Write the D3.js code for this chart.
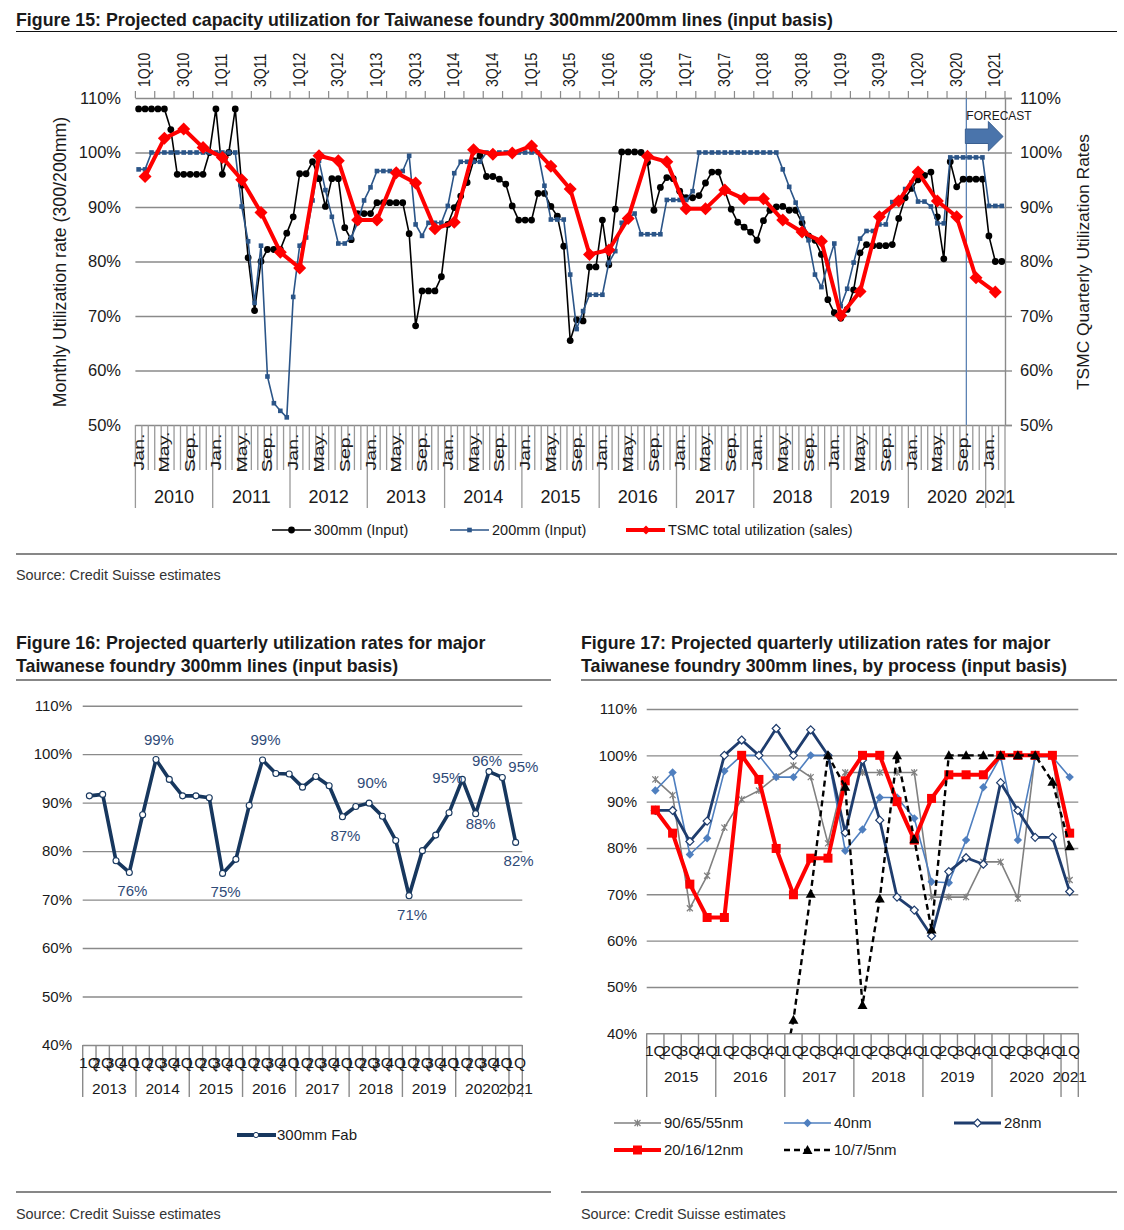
<!DOCTYPE html>
<html><head><meta charset="utf-8">
<script src="https://cdn.jsdelivr.net/npm/d3@7"></script>
<style>
body{margin:0;background:#fff;}
text{font-family:"Liberation Sans",Arial,Helvetica,sans-serif;fill:#1a1a1a;}
</style></head><body>
<svg id="c" width="1124" height="1230"></svg>
<script>
// ---- Figure 15 data (monthly Jan 2010 - Mar 2021, quarterly 1Q10 - 1Q21)
const years15 = [2010,2011,2012,2013,2014,2015,2016,2017,2018,2019,2020,2021];
const monthLabels = {0:"Jan.", 4:"May.", 8:"Sep."};
const fab300 = [108,108,108,108,108,104.2,96,96,96,96,96,100,108,96,100,108,94,80.7,71,80,
  82.2,82.2,82.2,85.2,88.2,96.1,96.1,98.3,95.2,90.1,95.2,95.2,86.2,84,88.8,88.8,88.8,90.8,90.8,90.8,
  90.8,90.8,85.1,68.2,74.6,74.6,74.6,77.2,86.8,89.9,92,94.5,98.5,99.4,95.6,95.6,95.1,94.2,90.2,87.6,
  87.6,87.6,92.5,92.5,90.1,88.3,82.8,65.5,69.3,69.1,79,79,87.6,79.4,89.6,100.1,100.1,100.1,100,98.2,
  89.4,93.6,95.4,95.2,92.9,91.7,91.7,92.1,94.4,96.4,96.4,93,89.6,87.2,86.3,85.4,83.9,87.5,89.4,90,
  90.1,89.4,89.4,87.1,84.7,83.9,81.3,73,70.6,69.6,71.2,74.8,81.6,83.1,82.9,82.9,82.9,83.1,87.9,91.7,
  93.4,95,95.8,96.4,88.2,80.5,98.3,93.7,95.1,95.1,95.1,95.1,84.7,80,80];
const fab200 = [96.9,96.9,100,100,100,100,100,100,100,100,100,100,100,100,100,100,90.1,83.7,72.4,82.9,
  58.9,54,52.6,51.4,73.5,82.9,84.4,91.2,98.5,93.1,88.2,83.3,83.3,84.4,87.1,91.2,93.6,96.6,96.6,96.6,
  96.6,96.6,99.4,86.8,84.7,87.1,87.1,87.1,90.2,96.2,98.3,98.3,98.3,98.3,100,100,100,100,100,100,
  100,100,100,93.9,87.7,87.7,87.7,77.6,67.6,70.9,73.9,73.9,73.9,79.8,81.9,87.1,88,88.8,85,85,
  85,85,91.3,91.3,91.3,91.3,92.9,100,100,100,100,100,100,100,100,100,100,100,100,100,
  96.9,93.7,90.8,87.9,83.9,77.6,75.3,79.5,83.3,71.8,75,79.8,84.2,85.6,85.6,86.8,86.8,90.9,90.9,93.3,
  94.5,91,91,90.1,87,87,99.1,99.1,99.1,99.1,99.1,99.1,90.2,90.2,90.2];
const tsmcQ = [95.6,102.6,104.3,100.9,99.1,95,89,81.7,78.8,99.4,98.5,87.6,87.6,96.3,94.4,86,87.2,100.5,
  99.7,99.9,101.2,97.5,93.3,81.3,82.1,87.9,99.3,98.3,89.7,89.7,93.1,91.5,91.5,87.6,85.4,83.7,70.1,74.5,
  88.2,91.1,96.4,91.1,88.2,77,74.4];
const forecastStartMonth = 129; // Oct 2020

// ---- Figure 16 data (1Q13 - 1Q21)
const years16 = [2013,2014,2015,2016,2017,2018,2019,2020,2021];
const fab300Q = [91.4,91.7,78,75.6,87.5,98.9,94.8,91.4,91.4,91,75.4,78.3,89.4,98.8,96,95.9,93.2,95.4,
  93.5,87.1,89.2,89.9,87.2,82.2,70.8,80.1,83.3,87.9,94.8,87.7,96.4,95.2,81.8];
const labeled16 = [3,5,10,13,19,21,24,28,29,30,31,32];

// ---- Figure 17 data (1Q15 - 1Q21)
const years17 = [2015,2016,2017,2018,2019,2020,2021];
const n90 = [94.8,91.4,67,74,84.4,90.5,92.4,95.4,97.8,95.3,81,96.3,96.3,96.3,96.3,96.3,69.4,69.4,69.4,77,77,69.1,100,100,73.1];
const n40 = [92.4,96.3,78.6,82.1,96.6,100,100,95.3,95.3,100,100,79.4,84,90.9,90.9,86.4,72.7,72.5,81.7,93.1,99.7,81.7,99.7,99.7,95.3];
const n28 = [88.1,88.1,81.4,85.8,100,103.3,100,105.8,100,105.5,100,83.3,99,86,69.4,66.6,61,74.9,77.9,76.5,94.1,88.1,82.3,82.3,70.6];
const n20 = [88.2,83.2,72.2,65,65,100,94.8,79.9,69.9,77.8,77.8,94.5,100,100,90,81.7,90.7,95.8,95.8,95.8,100,100,100,100,83.2];
const n10 = [null,null,null,null,null,null,null,25,42.9,70.1,100,93.2,46.1,69.1,100,81.9,62.4,100,100,100,100,100,100,94.3,80.4];

const svg = d3.select("#c");
const GRID = "#8a8a8a";

function diamond(s){ return `M0,${-s}L${s},0L0,${s}L${-s},0Z`; }
function quarterNames(years, lastCount){
  const out = [];
  years.forEach((y,k) => {
    const n = k === years.length-1 ? lastCount : 4;
    for (let q=1; q<=n; q++) out.push({q:q, year:y});
  });
  return out;
}

// ---------- headers
function header(x, y, lines, width, lineY, bottomY, srcY){
  lines.forEach((t,k) => svg.append("text").attr("x", x).attr("y", y + k*23)
    .attr("font-size", 17.8).attr("font-weight", "bold").text(t));
  svg.append("line").attr("x1", x).attr("x2", x+width).attr("y1", lineY).attr("y2", lineY)
    .attr("stroke", "#111").attr("stroke-width", 1.2);
  svg.append("line").attr("x1", x).attr("x2", x+width).attr("y1", bottomY).attr("y2", bottomY)
    .attr("stroke", "#111").attr("stroke-width", 1.2);
  svg.append("text").attr("x", x).attr("y", srcY).attr("font-size", 14.4).style("fill", "#333")
    .text("Source: Credit Suisse estimates");
}
header(16, 26, ["Figure 15: Projected capacity utilization for Taiwanese foundry 300mm/200mm lines (input basis)"], 1101, 31.5, 554, 580);
header(16, 649, ["Figure 16: Projected quarterly utilization rates for major", "Taiwanese foundry 300mm lines (input basis)"], 535, 680, 1192, 1219);
header(581, 649, ["Figure 17: Projected quarterly utilization rates for major", "Taiwanese foundry 300mm lines, by process (input basis)"], 536, 680, 1192, 1219);

// ---------- Figure 15
{
  const L = 135.4, R = 1005, T = 98, B = 425;
  const x = d3.scaleBand().domain(d3.range(fab300.length)).range([L, R]);
  const xq = d3.scaleBand().domain(d3.range(tsmcQ.length)).range([L, R]);
  const y = d3.scaleLinear().domain([50, 110]).range([B, T]);
  const g = svg.append("g");
  const ticks = d3.range(50, 111, 10);

  const grid = g.append("g").attr("transform", `translate(${L},0)`)
    .call(d3.axisLeft(y).tickValues(ticks).tickSize(-(R-L)).tickFormat(""));
  grid.select(".domain").remove();
  grid.selectAll("line").attr("stroke", GRID).attr("stroke-width", 1.4);

  const left = g.append("g").attr("transform", `translate(121,0)`)
    .call(d3.axisLeft(y).tickValues(ticks).tickSize(0).tickPadding(0).tickFormat(d => d + "%"));
  left.select(".domain").remove();
  left.selectAll("text").attr("font-size", 16.5).style("fill", "#1a1a1a");

  const right = g.append("g").attr("transform", `translate(${R},0)`)
    .call(d3.axisRight(y).tickValues(ticks).tickSize(7).tickPadding(8).tickFormat(d => d + "%"));
  right.select(".domain").attr("stroke", GRID).attr("stroke-width", 1.4);
  right.selectAll("line").attr("stroke", GRID).attr("stroke-width", 1.4);
  right.selectAll("text").attr("font-size", 16.5).style("fill", "#1a1a1a");

  // quarter ticks and labels on top
  const qb = d3.range(tsmcQ.length + 1).map(q => q < tsmcQ.length ? xq(q) : R);
  g.selectAll(".qt").data(qb).join("line").attr("x1", d => d).attr("x2", d => d)
    .attr("y1", T - 7).attr("y2", T).attr("stroke", GRID).attr("stroke-width", 1.2);
  const qn = quarterNames(years15, 1);
  g.selectAll(".ql").data(qn.filter((d,i) => i % 2 === 0)).join("text")
    .attr("transform", (d,k) => `translate(${xq(k*2) + xq.bandwidth()/2 + 5},87) rotate(-90) scale(0.88,1)`)
    .attr("font-size", 16).text(d => `${d.q}Q${String(d.year).slice(2)}`);

  // month ticks, labels, years
  const mb = d3.range(fab300.length + 1).map(m => m < fab300.length ? x(m) : R);
  g.selectAll(".mt").data(mb).join("line").attr("x1", d => d).attr("x2", d => d)
    .attr("y1", B).attr("y2", (d,i) => i % 12 === 0 || i === fab300.length ? 508 : 470)
    .attr("stroke", "#999").attr("stroke-width", 1.3);
  g.selectAll(".ml").data(d3.range(fab300.length).filter(m => monthLabels[m % 12])).join("text")
    .attr("transform", m => `translate(${x(m) + x.bandwidth()/2 + 5},452) rotate(-90) scale(1.4,1)`)
    .attr("text-anchor", "middle").attr("font-size", 14).text(m => monthLabels[m % 12]);
  g.selectAll(".yl").data(years15).join("text")
    .attr("x", (d,k) => { const a = x(k*12), b = (k+1)*12 < fab300.length ? x((k+1)*12) : R; return (a+b)/2; })
    .attr("y", 503).attr("text-anchor", "middle").attr("font-size", 18).text(d => d);

  // axis titles
  g.append("text").attr("transform", "translate(66,262) rotate(-90)").attr("text-anchor", "middle")
    .attr("font-size", 17.8).text("Monthly Utilization rate (300/200mm)");
  g.append("text").attr("transform", "translate(1089,262) rotate(-90)").attr("text-anchor", "middle")
    .attr("font-size", 17.4).text("TSMC Quarterly Utilization Rates");

  // forecast marker
  const fx = x(forecastStartMonth);
  g.append("line").attr("x1", fx).attr("x2", fx).attr("y1", T).attr("y2", B)
    .attr("stroke", "#5d83b4").attr("stroke-width", 1.3);
  g.append("path").attr("d", `M${fx-1},129L${fx+22},129L${fx+22},121.5L${R-2},136.5L${fx+22},151L${fx+22},143.5L${fx-1},143.5Z`)
    .attr("fill", "#4a74ab").attr("stroke", "#3a5f90").attr("stroke-width", 1);
  g.append("text").attr("x", fx).attr("y", 120).attr("font-size", 12).text("FORECAST");

  const cx = (d,i) => x(i) + x.bandwidth()/2;
  const line = d3.line().x(cx).y(d => y(d));
  g.append("path").attr("d", line(fab300)).attr("fill", "none").attr("stroke", "#000").attr("stroke-width", 1.6);
  g.selectAll(".p3").data(fab300).join("circle").attr("cx", cx).attr("cy", d => y(d)).attr("r", 3.4).attr("fill", "#000");
  g.append("path").attr("d", line(fab200)).attr("fill", "none").attr("stroke", "#2b5588").attr("stroke-width", 1.6);
  g.selectAll(".p2").data(fab200).join("rect").attr("x", (d,i) => cx(d,i) - 2.3).attr("y", d => y(d) - 2.3)
    .attr("width", 4.6).attr("height", 4.6).attr("fill", "#2b5588");
  const qx = (d,i) => xq(i) + xq.bandwidth()/2;
  g.append("path").attr("d", d3.line().x(qx).y(d => y(d))(tsmcQ)).attr("fill", "none")
    .attr("stroke", "#ff0000").attr("stroke-width", 4).attr("stroke-linejoin", "round");
  g.selectAll(".pt").data(tsmcQ).join("path").attr("transform", (d,i) => `translate(${qx(d,i)},${y(d)})`)
    .attr("d", diamond(6.5)).attr("fill", "#ff0000");

  // legend
  const lg = [
    {t: "300mm (Input)", x: 272, c: "#000", w: 1.6, m: "c"},
    {t: "200mm (Input)", x: 450, c: "#2b5588", w: 1.6, m: "s"},
    {t: "TSMC total utilization (sales)", x: 626, c: "#ff0000", w: 4, m: "d"}
  ];
  lg.forEach(o => {
    g.append("line").attr("x1", o.x).attr("x2", o.x + 39).attr("y1", 530).attr("y2", 530)
      .attr("stroke", o.c).attr("stroke-width", o.w);
    if (o.m === "c") g.append("circle").attr("cx", o.x + 19.5).attr("cy", 530).attr("r", 3.4).attr("fill", o.c);
    if (o.m === "s") g.append("rect").attr("x", o.x + 17.2).attr("y", 527.7).attr("width", 4.6).attr("height", 4.6).attr("fill", o.c);
    if (o.m === "d") g.append("path").attr("transform", `translate(${o.x + 20},530)`).attr("d", diamond(4.5)).attr("fill", o.c);
    g.append("text").attr("x", o.x + 42).attr("y", 535).attr("font-size", 14.5).text(o.t);
  });
}

// ---------- shared quarterly axis for figures 16/17
function quarterAxis(g, x, years, lastCount, B, qTickEnd, yearEnd, qLabelY, yLabelY){
  const qn = quarterNames(years, lastCount);
  const n = qn.length, R = x.range()[1];
  const bounds = d3.range(n + 1).map(i => i < n ? x(i) : R);
  g.selectAll(null).data(bounds).join("line").attr("x1", d => d).attr("x2", d => d)
    .attr("y1", B).attr("y2", (d,i) => (i % 4 === 0 || i === n) ? yearEnd : qTickEnd)
    .attr("stroke", GRID).attr("stroke-width", 1.4);
  g.selectAll(null).data(qn).join("text").attr("x", (d,i) => x(i) + x.bandwidth()/2)
    .attr("y", qLabelY).attr("text-anchor", "middle").attr("font-size", 15.5).text(d => d.q + "Q");
  g.selectAll(null).data(years).join("text")
    .attr("x", (d,k) => { const a = x(k*4), b = (k+1)*4 < n ? x((k+1)*4) : R; return (a+b)/2; })
    .attr("y", yLabelY).attr("text-anchor", "middle").attr("font-size", 15.5).text(d => d);
}
function valueGrid(g, y, L, R, labelX){
  const ticks = d3.range(40, 111, 10);
  const grid = g.append("g").attr("transform", `translate(${L},0)`)
    .call(d3.axisLeft(y).tickValues(ticks).tickSize(-(R-L)).tickFormat(""));
  grid.select(".domain").remove();
  grid.selectAll("line").attr("stroke", GRID).attr("stroke-width", 1.4);
  const lab = g.append("g").attr("transform", `translate(${labelX},0)`)
    .call(d3.axisLeft(y).tickValues(ticks).tickSize(0).tickPadding(0).tickFormat(d => d + "%"));
  lab.select(".domain").remove();
  lab.selectAll("text").attr("font-size", 15).style("fill", "#1a1a1a");
}

// ---------- Figure 16
{
  const L = 82.7, R = 522.3, T = 705.7, B = 1045;
  const x = d3.scaleBand().domain(d3.range(fab300Q.length)).range([L, R]);
  const y = d3.scaleLinear().domain([40, 110]).range([B, T]);
  const g = svg.append("g");
  valueGrid(g, y, L, R, 72);
  quarterAxis(g, x, years16, 1, B, 1072, 1097, 1068, 1094);
  const cx = (d,i) => x(i) + x.bandwidth()/2;
  const navy = "#17375e";
  g.append("path").attr("d", d3.line().x(cx).y(d => y(d))(fab300Q)).attr("fill", "none")
    .attr("stroke", navy).attr("stroke-width", 3.6).attr("stroke-linejoin", "round");
  g.selectAll(".p").data(fab300Q).join("circle").attr("cx", cx).attr("cy", d => y(d)).attr("r", 3)
    .attr("fill", "#fff").attr("stroke", navy).attr("stroke-width", 1.1);
  // label placement: above local peaks, below otherwise; a few hand-placed like the source
  const place = {28: [-15, 4], 29: [5, 15], 30: [-2, -6], 31: [21, -5]};
  g.selectAll(".lb").data(labeled16).join("text")
    .attr("x", i => cx(null, i) + (place[i] ? place[i][0] : 3))
    .attr("y", i => {
      const v = fab300Q[i];
      if (place[i]) return y(v) + place[i][1];
      const up = v >= (fab300Q[i-1] ?? -1) && v >= (fab300Q[i+1] ?? -1);
      return y(v) + (up ? -15 : 24);
    })
    .attr("text-anchor", "middle").attr("font-size", 15).style("fill", "#2f4b78")
    .text(i => Math.round(fab300Q[i]) + "%");
  g.append("line").attr("x1", 237).attr("x2", 276).attr("y1", 1135).attr("y2", 1135)
    .attr("stroke", navy).attr("stroke-width", 4);
  g.append("circle").attr("cx", 256).attr("cy", 1135).attr("r", 2.6).attr("fill", "#fff").attr("stroke", navy);
  g.append("text").attr("x", 277).attr("y", 1140).attr("font-size", 15).text("300mm Fab");
}

// ---------- Figure 17
{
  const L = 646.7, R = 1078.3, T = 709, B = 1033.3;
  const x = d3.scaleBand().domain(d3.range(n20.length)).range([L, R]);
  const y = d3.scaleLinear().domain([40, 110]).range([B, T]);
  const g = svg.append("g");
  valueGrid(g, y, L, R, 637);
  quarterAxis(g, x, years17, 1, B, 1060, 1097, 1056, 1082);
  svg.append("clipPath").attr("id", "clip17").append("rect")
    .attr("x", L).attr("y", T - 20).attr("width", R - L + 10).attr("height", B - T + 20);
  const cx = (d,i) => x(i) + x.bandwidth()/2;
  const line = d3.line().defined(d => d != null).x(cx).y(d => y(d));
  const series = [
    {d: n90, c: "#808080", w: 1.6, m: "x", name: "90/65/55nm"},
    {d: n40, c: "#4f7fbf", w: 1.6, m: "dia", name: "40nm"},
    {d: n28, c: "#1f3d6e", w: 2.8, m: "odia", name: "28nm"},
    {d: n20, c: "#ff0000", w: 4, m: "sq", name: "20/16/12nm"},
    {d: n10, c: "#000", w: 2.4, m: "tri", dash: "6,4", name: "10/7/5nm"}
  ];
  function marker(sel, s, px, py){
    const m = sel.append("g").attr("transform", `translate(${px},${py})`);
    if (s.m === "x") m.append("path").attr("d", "M-3,-3L3,3M-3,3L3,-3M0,-3.5L0,3.5").attr("stroke", s.c).attr("stroke-width", 1.2);
    if (s.m === "dia") m.append("path").attr("d", diamond(4.2)).attr("fill", s.c);
    if (s.m === "odia") m.append("path").attr("d", diamond(4)).attr("fill", "#fff").attr("stroke", s.c).attr("stroke-width", 1.2);
    if (s.m === "sq") m.append("rect").attr("x", -4.5).attr("y", -4.5).attr("width", 9).attr("height", 9).attr("fill", s.c);
    if (s.m === "tri") m.append("path").attr("d", "M0,-5L5,4L-5,4Z").attr("fill", s.c);
  }
  const pg = g.append("g").attr("clip-path", "url(#clip17)");
  series.forEach(s => {
    pg.append("path").attr("d", line(s.d)).attr("fill", "none").attr("stroke", s.c)
      .attr("stroke-width", s.w).attr("stroke-dasharray", s.dash || null).attr("stroke-linejoin", "round");
    s.d.forEach((v,i) => { if (v != null) marker(pg, s, cx(v,i), y(v)); });
  });
  // legend
  const pos = [[614,1123],[784,1123],[954,1123],[614,1150],[784,1150]];
  series.forEach((s,k) => {
    const [lx, ly] = pos[k];
    g.append("line").attr("x1", lx).attr("x2", lx + 47).attr("y1", ly).attr("y2", ly)
      .attr("stroke", s.c).attr("stroke-width", s.w).attr("stroke-dasharray", s.dash || null);
    marker(g, s, lx + 23.5, ly);
    g.append("text").attr("x", lx + 50).attr("y", ly + 5).attr("font-size", 15).text(s.name);
  });
}
</script>
</body></html>
